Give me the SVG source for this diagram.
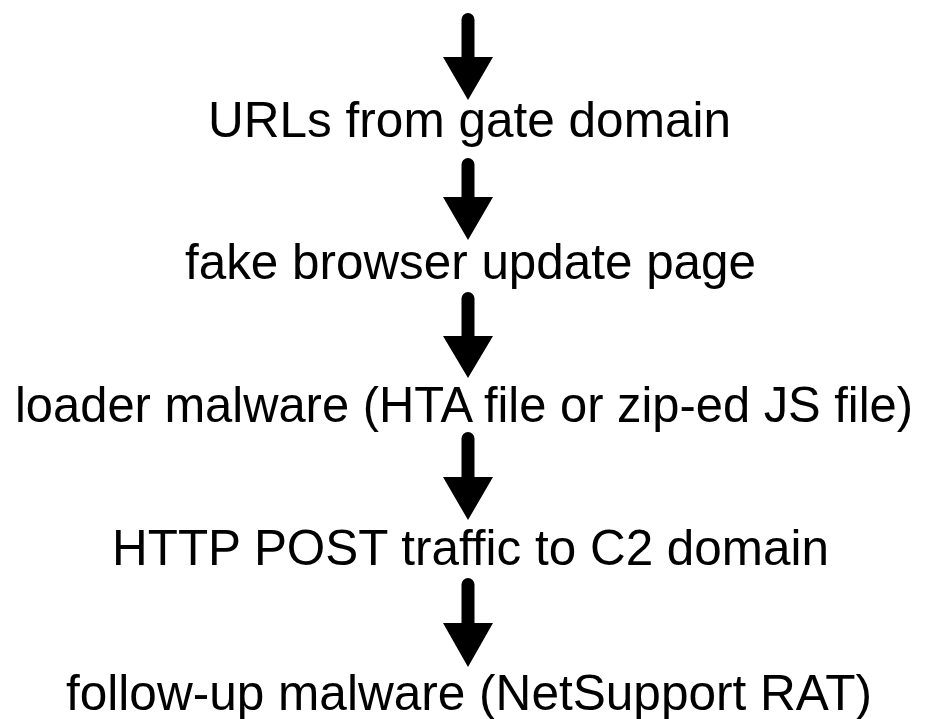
<svg xmlns="http://www.w3.org/2000/svg" width="927" height="719" viewBox="0 0 927 719">
  <style>
    .label { font-family: "Liberation Sans", Arial, Helvetica, sans-serif; font-size: 50px; fill: #000; }
    .arrow { fill: #000; stroke: none; }
  </style>
  <rect width="927" height="719" fill="#fff"/>

  <!-- flow steps -->
  <g id="step-urls">
    <text class="label" x="208" y="137" textLength="523" lengthAdjust="spacingAndGlyphs">URLs from gate domain</text>
  </g>
  <g id="step-fake-update">
    <text class="label" x="185" y="279" textLength="571" lengthAdjust="spacingAndGlyphs">fake browser update page</text>
  </g>
  <g id="step-loader">
    <text class="label" x="15" y="422" textLength="898" lengthAdjust="spacingAndGlyphs">loader malware (HTA file or zip-ed JS file)</text>
  </g>
  <g id="step-c2">
    <text class="label" x="112" y="565" textLength="717" lengthAdjust="spacingAndGlyphs">HTTP POST traffic to C2 domain</text>
  </g>
  <g id="step-followup">
    <text class="label" x="66" y="710" textLength="806" lengthAdjust="spacingAndGlyphs">follow-up malware (NetSupport RAT)</text>
  </g>

  <!-- downward arrows between steps -->
  <g id="connectors">
    <path class="arrow" d="M461.5,19.5 a6.5,6.5 0 0 1 13,0 V57 H493 L468,100 L443,57 H461.5 Z"/>
    <path class="arrow" d="M461.5,164.5 a6.5,6.5 0 0 1 13,0 V197 H493 L468,240 L443,197 H461.5 Z"/>
    <path class="arrow" d="M461.5,298.5 a6.5,6.5 0 0 1 13,0 V336 H493 L468,378 L443,336 H461.5 Z"/>
    <path class="arrow" d="M461.5,438.5 a6.5,6.5 0 0 1 13,0 V477 H493 L468,520 L443,477 H461.5 Z"/>
    <path class="arrow" d="M461.5,584.5 a6.5,6.5 0 0 1 13,0 V623 H493 L468,667 L443,623 H461.5 Z"/>
  </g>
</svg>
